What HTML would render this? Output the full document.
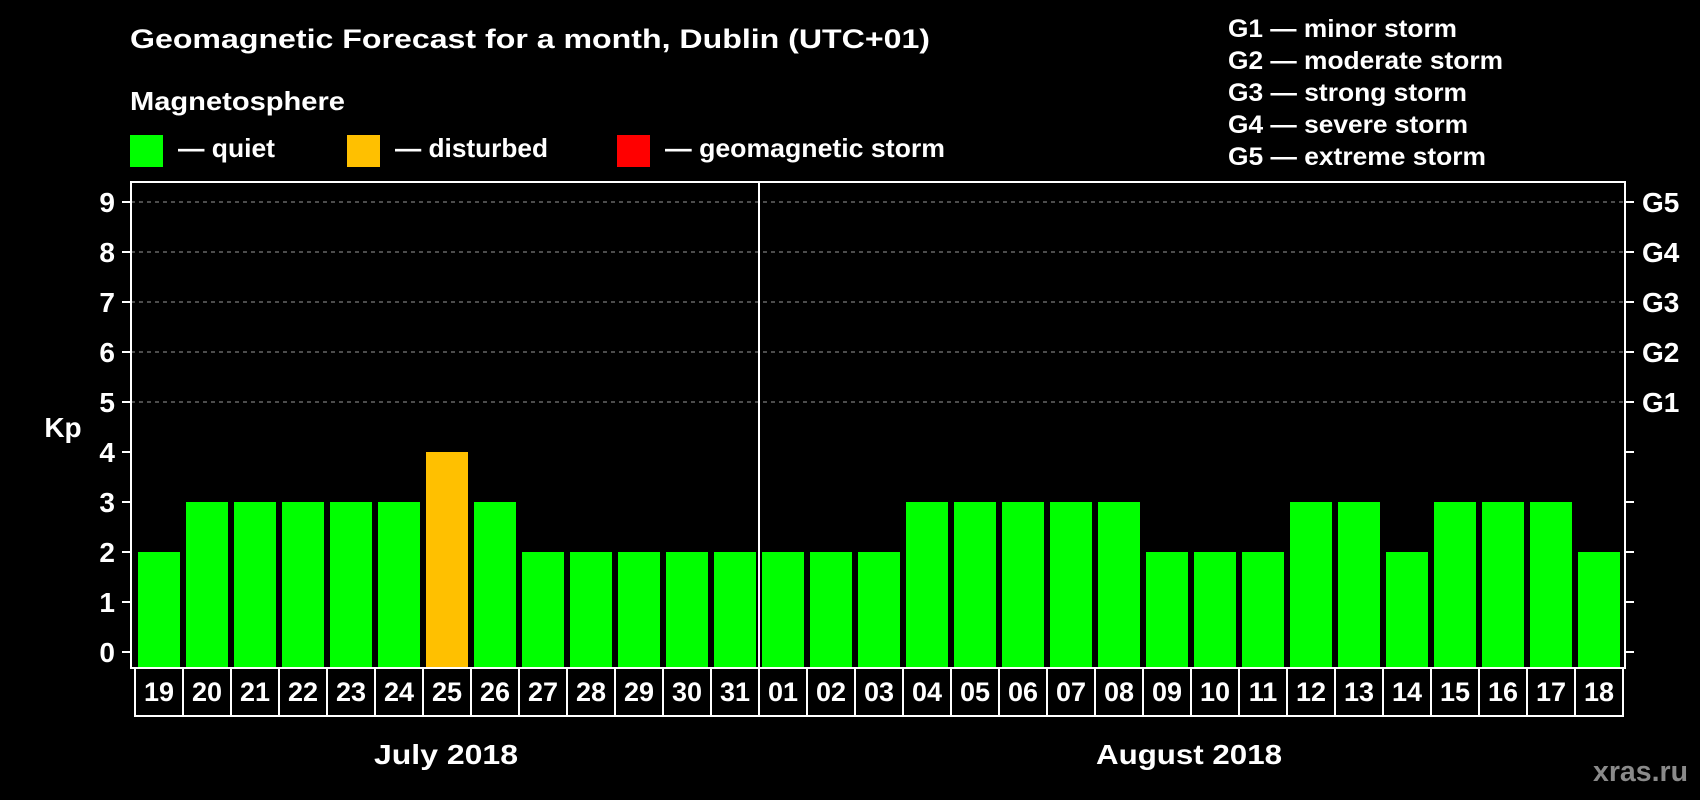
<!DOCTYPE html>
<html><head><meta charset="utf-8"><style>
html,body{margin:0;padding:0;background:#000;}
svg{display:block;font-family:"Liberation Sans",Arial,sans-serif;font-weight:bold;}
</style></head><body>
<svg id="chart" width="1700" height="800" viewBox="0 0 1700 800" xmlns="http://www.w3.org/2000/svg">
<rect width="1700" height="800" fill="#000"/>
<text x="130" y="48" fill="#fff" font-size="27" textLength="800" lengthAdjust="spacingAndGlyphs">Geomagnetic Forecast for a month, Dublin (UTC+01)</text>
<text x="130" y="110" fill="#fff" font-size="26" textLength="215" lengthAdjust="spacingAndGlyphs">Magnetosphere</text>
<rect x="130" y="135" width="33" height="32" fill="#00ff00"/>
<text x="178" y="157" fill="#fff" font-size="26" textLength="97" lengthAdjust="spacingAndGlyphs">— quiet</text>
<rect x="347" y="135" width="33" height="32" fill="#ffc000"/>
<text x="395" y="157" fill="#fff" font-size="26" textLength="153" lengthAdjust="spacingAndGlyphs">— disturbed</text>
<rect x="617" y="135" width="33" height="32" fill="#ff0000"/>
<text x="665" y="157" fill="#fff" font-size="26" textLength="280" lengthAdjust="spacingAndGlyphs">— geomagnetic storm</text>
<g fill="#fff" font-size="25">
<text x="1228" y="37" textLength="229" lengthAdjust="spacingAndGlyphs">G1 — minor storm</text>
<text x="1228" y="69" textLength="275" lengthAdjust="spacingAndGlyphs">G2 — moderate storm</text>
<text x="1228" y="101" textLength="239" lengthAdjust="spacingAndGlyphs">G3 — strong storm</text>
<text x="1228" y="133" textLength="240" lengthAdjust="spacingAndGlyphs">G4 — severe storm</text>
<text x="1228" y="165" textLength="258" lengthAdjust="spacingAndGlyphs">G5 — extreme storm</text>
</g>
<text x="63" y="437" fill="#fff" font-size="28" text-anchor="middle">Kp</text>
<g id="plot"></g>
<text x="446" y="764" fill="#fff" font-size="28" text-anchor="middle" textLength="144" lengthAdjust="spacingAndGlyphs">July 2018</text>
<text x="1189" y="764" fill="#fff" font-size="28" text-anchor="middle" textLength="186" lengthAdjust="spacingAndGlyphs">August 2018</text>
<text x="1593" y="781" fill="#8a8a8a" font-size="29" textLength="95" lengthAdjust="spacingAndGlyphs">xras.ru</text>
</svg>
<script>
const days = ["19","20","21","22","23","24","25","26","27","28","29","30","31","01","02","03","04","05","06","07","08","09","10","11","12","13","14","15","16","17","18"];
const kpValues = [2,3,3,3,3,3,4,3,2,2,2,2,2,2,2,2,3,3,3,3,3,2,2,2,3,3,2,3,3,3,2];
const yTicks = [0,1,2,3,4,5,6,7,8,9];
const gLabels = ["G1","G2","G3","G4","G5"];
const gLevels = [5,6,7,8,9];

const NS = "http://www.w3.org/2000/svg";
const plot = document.getElementById('plot');
const L = 131, R = 1625, T = 182, B = 668;
const cellX0 = 135, cellW = (1623 - 135) / days.length;
const y = v => 652 - v * 50;
const x = i => cellX0 + i * cellW;
function mk(tag, attrs, parent) {
  const e = document.createElementNS(NS, tag);
  for (const k in attrs) e.setAttribute(k, attrs[k]);
  (parent || plot).appendChild(e);
  return e;
}
// gridlines
gLevels.forEach(v => {
  const g = mk('line', {x1: L, x2: R, y1: y(v), y2: y(v), stroke: '#999', 'stroke-width': 1, 'stroke-dasharray': '4,4'});
  
  
});
// bars
kpValues.forEach((v, i) => {
  const col = v >= 5 ? '#ff0000' : (v >= 4 ? '#ffc000' : '#00ff00');
  const b = mk('rect', {x: x(i) + 3, y: y(v), width: cellW - 6, height: B - y(v), fill: col});
  
  
});
// frame
const fr = mk('rect', {x: L, y: T, width: R - L, height: B - T, fill: 'none', stroke: '#fff', 'stroke-width': 2});


const dv = mk('line', {x1: x(13), x2: x(13), y1: T, y2: B, stroke: '#fff', 'stroke-width': 2});


// y ticks
yTicks.forEach(v => {
  const t = mk('line', {x1: 122, x2: L, y1: y(v), y2: y(v), stroke: '#fff', 'stroke-width': 2});
  
  
  const t2 = mk('line', {x1: R, x2: 1634, y1: y(v), y2: y(v), stroke: '#fff', 'stroke-width': 2});
  
  
  const lb = mk('text', {x: 115, y: y(v) + 10, fill: '#fff', 'font-size': 28, 'text-anchor': 'end'});
  lb.textContent = v;
  
  
});
gLabels.forEach((g, i) => {
  const lb = mk('text', {x: 1642, y: y(gLevels[i]) + 10, fill: '#fff', 'font-size': 28});
  lb.textContent = g;
  
  
});
// date cells
days.forEach((d, i) => {
  const c = mk('rect', {x: x(i), y: B, width: cellW, height: 48, fill: 'none', stroke: '#fff', 'stroke-width': 2});
  
  
  const t = mk('text', {x: x(i) + cellW / 2, y: 701, fill: '#fff', 'font-size': 27, 'text-anchor': 'middle'});
  t.textContent = d;
  
  
});
</script>
</body></html>
